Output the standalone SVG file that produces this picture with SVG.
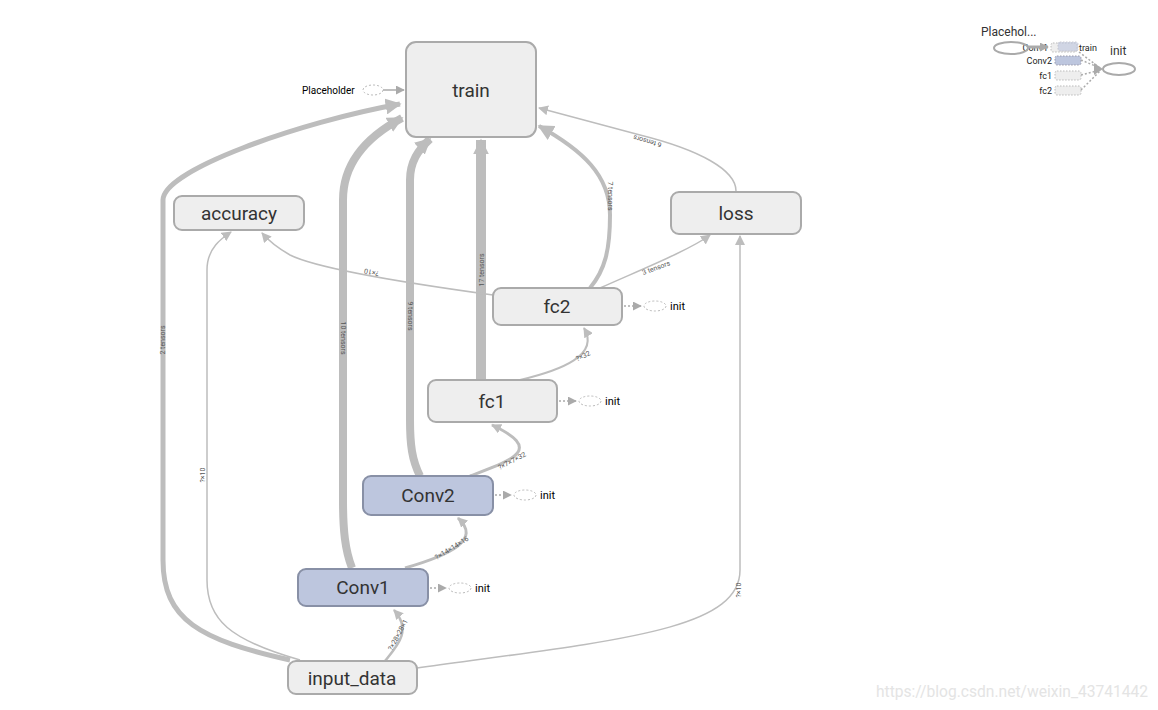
<svg xmlns="http://www.w3.org/2000/svg" width="1158" height="710" viewBox="0 0 1158 710">
<style>
.node rect{fill:#eeeeee;stroke:#aaaaaa;stroke-width:2}
.node.blue rect{fill:#bdc6de;stroke:#8890a6}
.node text{font-family:Roboto,"Liberation Sans",sans-serif;font-size:19px;fill:#333;text-anchor:middle}
.e{fill:none;stroke:#bdbdbd}
.lbl{font-family:Roboto,"Liberation Sans",sans-serif;font-size:7px;fill:#555;text-anchor:middle}
.init ellipse{fill:none;stroke:#bbb;stroke-dasharray:2 2;stroke-width:1}
.init line{stroke:#aaa;stroke-dasharray:2 2;stroke-width:1.5}
.init text{font-family:Roboto,"Liberation Sans",sans-serif;font-size:11px;fill:#000}
.mm text{font-family:Roboto,"Liberation Sans",sans-serif;font-size:9px;fill:#222}
</style>
<defs>
<marker id="ah" viewBox="0 0 10 10" refX="9" refY="5" markerWidth="10" markerHeight="10" markerUnits="userSpaceOnUse" orient="auto"><path d="M0 0 L10 5 L0 10 z" fill="#bdbdbd"/></marker>
<marker id="ahb" viewBox="0 0 10 10" refX="9" refY="5" markerWidth="16" markerHeight="16" markerUnits="userSpaceOnUse" orient="auto"><path d="M0 0 L10 5 L0 10 z" fill="#bdbdbd"/></marker>
<marker id="ahd" viewBox="0 0 10 10" refX="9" refY="5" markerWidth="9" markerHeight="9" markerUnits="userSpaceOnUse" orient="auto"><path d="M0 0 L10 5 L0 10 z" fill="#aaa"/></marker>
</defs>
<rect width="1158" height="710" fill="#fff"/>
<g id="connectors">
<path class="e" stroke-width="5" d="M290 660 C200 640 163 620 163 560 L163 200 C163 170 300 122 400 104" marker-end="url(#ahb)"/>
<path class="e" stroke-width="1.5" d="M300 660 C230 640 207 620 207 580 L207 270 C207 248 222 238 231 232" marker-end="url(#ah)"/>
<path class="e" stroke-width="2.5" d="M385 661 C398 645 412 630 394 610" marker-end="url(#ah)"/>
<path class="e" stroke-width="1.5" d="M417 668 C620 640 740 630 740 570 L740 236" marker-end="url(#ah)"/>
<path class="e" stroke-width="8" d="M352 568 C345 550 343 530 343 500 L343 200 C343 160 370 135 402 118" marker-end="url(#ahb)"/>
<path class="e" stroke-width="3" d="M405 568 C450 555 482 540 458 518" marker-end="url(#ah)"/>
<path class="e" stroke-width="8" d="M420 476 C412 460 410 445 410 420 L410 180 C410 162 418 150 430 139" marker-end="url(#ahb)"/>
<path class="e" stroke-width="3" d="M470 476 C512 460 545 450 492 425" marker-end="url(#ah)"/>
<path class="e" stroke-width="10" d="M481 379 L481 140" marker-end="url(#ahb)"/>
<path class="e" stroke-width="2" d="M520 380 C562 370 600 355 584 328" marker-end="url(#ah)"/>
<path class="e" stroke-width="4" d="M590 288 C605 270 610 250 610 215 C610 175 582 150 539 126" marker-end="url(#ahb)"/>
<path class="e" stroke-width="1.5" d="M736 191 C736 170 700 150 640 135 L539 108" marker-end="url(#ah)"/>
<path class="e" stroke-width="1.5" d="M600 288 C640 270 690 250 710 235" marker-end="url(#ah)"/>
<path class="e" stroke-width="1.5" d="M493 295 C420 285 320 270 290 255 C276 247 268 240 262 233" marker-end="url(#ah)"/>
<line x1="383" y1="90" x2="404" y2="90" stroke="#aaa" stroke-width="1.5" marker-end="url(#ahd)"/>
<text class="lbl" transform="translate(165,340) rotate(-90)">2 tensors</text>
<text class="lbl" transform="translate(205,475) rotate(-90)">?×10</text>
<text class="lbl" transform="translate(741,590) rotate(-90)">?×10</text>
<text class="lbl" transform="translate(341,338) rotate(90)">10 tensors</text>
<text class="lbl" transform="translate(408,316) rotate(90)">9 tensors</text>
<text class="lbl" transform="translate(484,270) rotate(-90)">17 tensors</text>
<text class="lbl" transform="translate(608,196) rotate(90)">7 tensors</text>
<text class="lbl" transform="translate(648,139) rotate(196)">6 tensors</text>
<text class="lbl" transform="translate(657,270) rotate(-20)">3 tensors</text>
<text class="lbl" transform="translate(372,270) rotate(192)">?×10</text>
<text class="lbl" transform="translate(584,358) rotate(-25)">?×32</text>
<text class="lbl" transform="translate(513,463) rotate(-28)">?×7×7×32</text>
<text class="lbl" transform="translate(453,550) rotate(-32)">?×14×14×16</text>
<text class="lbl" transform="translate(400,636) rotate(-62)">?×28×28×1</text>
</g>
<g id="train" class="node"><rect x="406" y="42" width="130" height="95" rx="10"/><text x="471" y="97">train</text></g>
<g id="accuracy" class="node"><rect x="174" y="196" width="130" height="34" rx="8"/><text x="239" y="220">accuracy</text></g>
<g id="loss" class="node"><rect x="671" y="192" width="130" height="42" rx="8"/><text x="736" y="220">loss</text></g>
<g id="fc2" class="node"><rect x="493" y="288" width="129" height="37" rx="8"/><text x="557" y="313">fc2</text></g>
<g id="fc1" class="node"><rect x="428" y="380" width="129" height="42" rx="8"/><text x="492" y="408">fc1</text></g>
<g id="Conv2" class="node blue"><rect x="363" y="476" width="130" height="39" rx="8"/><text x="428" y="502">Conv2</text></g>
<g id="Conv1" class="node blue"><rect x="298" y="569" width="130" height="37" rx="8"/><text x="363" y="594">Conv1</text></g>
<g id="input_data" class="node"><rect x="288" y="661" width="129" height="33" rx="8"/><text x="352" y="685">input_data</text></g>
<g id="Placeholder" class="init">
<ellipse cx="373" cy="90" rx="10" ry="5"/>
<text x="302" y="94" style="font-size:10px">Placeholder</text>
</g>
<g id="init_fc2" class="init"><line x1="624" y1="306" x2="641" y2="306" marker-end="url(#ahd)"/><ellipse cx="655" cy="306" rx="11" ry="5"/><text x="670" y="310">init</text></g>
<g id="init_fc1" class="init"><line x1="559" y1="401" x2="576" y2="401" marker-end="url(#ahd)"/><ellipse cx="590" cy="401" rx="11" ry="5"/><text x="605" y="405">init</text></g>
<g id="init_Conv2" class="init"><line x1="495" y1="495" x2="511" y2="495" marker-end="url(#ahd)"/><ellipse cx="525" cy="495" rx="11" ry="5"/><text x="540" y="499">init</text></g>
<g id="init_Conv1" class="init"><line x1="430" y1="588" x2="446" y2="588" marker-end="url(#ahd)"/><ellipse cx="460" cy="588" rx="11" ry="5"/><text x="475" y="592">init</text></g>
<g id="minimap" class="mm">
<text x="981" y="36" style="font-size:12px;fill:#333">Placehol...</text>
<text x="1048" y="51" text-anchor="end">Conv1</text>
<ellipse cx="1011" cy="48" rx="17" ry="6" fill="none" stroke="#aaa" stroke-width="2"/>
<path d="M1028 47 L1048 47" stroke="#aaa" stroke-width="3" marker-end="url(#ahd)"/>
<rect x="1051" y="43" width="26" height="9" rx="2" fill="#eee" stroke="#bbb" stroke-dasharray="1.5 1.5"/>
<rect x="1058" y="42" width="20" height="9" rx="2" fill="#bdc6de" stroke="#aab" stroke-dasharray="1.5 1.5" opacity="0.6"/>
<text x="1079" y="51">train</text>
<text x="1052" y="64" text-anchor="end">Conv2</text>
<rect x="1055" y="56" width="26" height="9" rx="2" fill="#bdc6de" stroke="#99a" stroke-dasharray="1.5 1.5"/>
<text x="1052" y="79" text-anchor="end">fc1</text>
<rect x="1055" y="71" width="26" height="9" rx="2" fill="#eee" stroke="#bbb" stroke-dasharray="1.5 1.5"/>
<text x="1052" y="94" text-anchor="end">fc2</text>
<rect x="1055" y="86" width="26" height="9" rx="2" fill="#eee" stroke="#bbb" stroke-dasharray="1.5 1.5"/>
<g fill="none" stroke="#aaa" stroke-width="1.5" stroke-dasharray="2 2">
<path d="M1079 52 L1100 68"/><path d="M1081 60 L1100 68"/><path d="M1081 75 L1100 70"/><path d="M1081 90 L1100 71"/>
</g>
<path d="M1094 63 L1103 69 L1094 75 z" fill="#aaa"/>
<text x="1110" y="55" style="font-size:12px;fill:#333">init</text>
<ellipse cx="1119" cy="69" rx="16" ry="6" fill="none" stroke="#aaa" stroke-width="2"/>
</g>
<text x="876" y="697" style="font-family:Roboto,'Liberation Sans',sans-serif;font-size:15.6px;fill:#e4e4e4">https://blog.csdn.net/weixin_43741442</text>
</svg>
